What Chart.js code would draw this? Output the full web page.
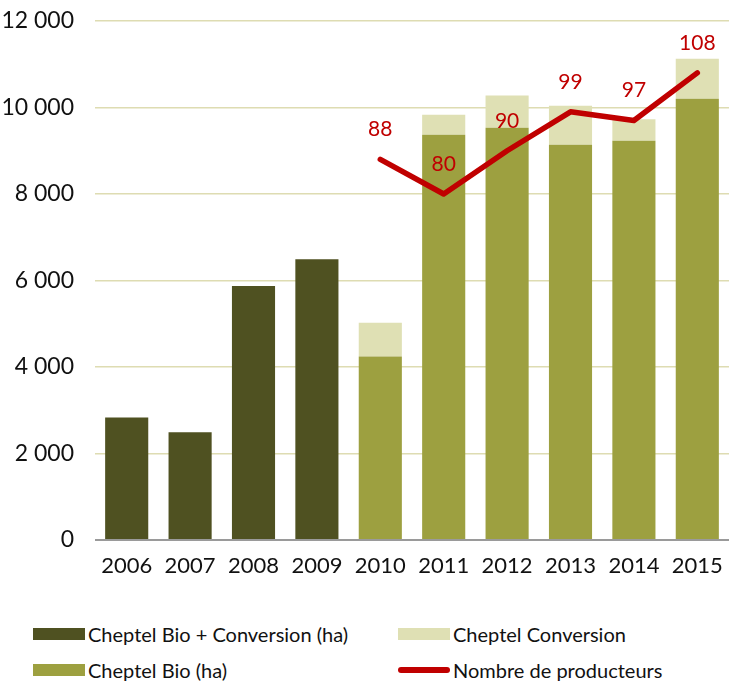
<!DOCTYPE html>
<html>
<head>
<meta charset="utf-8">
<script src="https://cdn.jsdelivr.net/npm/chart.js@4/dist/chart.umd.min.js"></script>
<style>
  html, body { margin: 0; padding: 0; background: #fff; }
  #wrap { position: relative; width: 729px; height: 684px; }
  #box { position: absolute; left: 0; top: 0; width: 729px; height: 600px; }
  .leg { position: absolute; font-family: Lato, sans-serif; font-size: 20px; color: #111; display: flex; align-items: center; white-space: nowrap; }
  .sw { width: 52px; height: 12px; margin-right: 3px; }
  .ln { width: 52px; height: 6px; border-radius: 3px; margin-right: 3px; }
</style>
</head>
<body>
<div id="wrap">
  <div id="box"><canvas id="c"></canvas></div>
  <div class="leg" style="left:33px; top:622px;"><span class="sw" style="background:#4f5121"></span>Cheptel Bio + Conversion (ha)</div>
  <div class="leg" style="left:398px; top:622px;"><span class="sw" style="background:#dfe0b4"></span>Cheptel Conversion</div>
  <div class="leg" style="left:33px; top:658px;"><span class="sw" style="background:#9da040"></span>Cheptel Bio (ha)</div>
  <div class="leg" style="left:398px; top:658px;"><span class="ln" style="background:#c00000"></span>Nombre de producteurs</div>
</div>
<script>
const years = ['2006','2007','2008','2009','2010','2011','2012','2013','2014','2015'];
const bioPlusConversion = [2830, 2490, 5870, 6490, null, null, null, null, null, null];
const bio = [null, null, null, null, 4240, 9370, 9530, 9140, 9230, 10200];
const conversion = [null, null, null, null, 785, 460, 745, 900, 500, 925];
const producteurs = [null, null, null, null, 88, 80, 90, 99, 97, 108];
const yTicks = [0, 2000, 4000, 6000, 8000, 10000, 12000];

const fmt = v => String(v).replace(/\B(?=(\d{3})+(?!\d))/g, ' ');

const lineLabels = {
  id: 'lineLabels',
  afterDatasetsDraw(chart) {
    const ctx = chart.ctx;
    const meta = chart.getDatasetMeta(3);
    ctx.save();
    ctx.font = '21px Lato, sans-serif';
    ctx.fillStyle = '#c00000';
    ctx.textAlign = 'center';
    ctx.textBaseline = 'middle';
    meta.data.forEach((pt, i) => {
      const v = producteurs[i];
      if (v == null) return;
      ctx.fillText(String(v), pt.x, pt.y - 30);
    });
    ctx.restore();
  }
};

new Chart(document.getElementById('c'), {
  data: {
    labels: years,
    datasets: [
      { type: 'bar', label: 'Cheptel Bio + Conversion (ha)', data: bioPlusConversion, backgroundColor: '#4f5121', stack: 's', order: 2 },
      { type: 'bar', label: 'Cheptel Bio (ha)', data: bio, backgroundColor: '#9da040', stack: 's', order: 2 },
      { type: 'bar', label: 'Cheptel Conversion', data: conversion, backgroundColor: '#dfe0b4', stack: 's', order: 2 },
      { type: 'line', label: 'Nombre de producteurs', data: producteurs, yAxisID: 'y1', borderColor: '#c00000', borderWidth: 5.5, pointRadius: 0, borderCapStyle: 'round', borderJoinStyle: 'round', fill: false, tension: 0, order: 1, spanGaps: false }
    ]
  },
  options: {
    responsive: true,
    maintainAspectRatio: false,
    animation: false,
    layout: { padding: { top: 21, right: 0, left: 0, bottom: 0 } },
    plugins: { legend: { display: false }, tooltip: { enabled: false } },
    datasets: { bar: { categoryPercentage: 1, barPercentage: 0.68 } },
    scales: {
      x: {
        stacked: true,
        grid: { display: false },
        border: { display: false },
        ticks: { color: '#111', font: { family: 'Lato, sans-serif', size: 22 }, padding: 5 },
        afterFit(s) { s.height = 60; s.paddingLeft = 0; s.paddingRight = 0; }
      },
      y: {
        stacked: true,
        min: 0, max: 12000,
        afterBuildTicks(s) { s.ticks = yTicks.map(v => ({ value: v })); },
        grid: { color: ctx => ctx.tick && ctx.tick.value === 0 ? '#9a9a9a' : '#dedcb2', lineWidth: ctx => ctx.tick && ctx.tick.value === 0 ? 2 : 1.5, drawTicks: false },
        border: { display: false },
        ticks: { color: '#111', font: { family: 'Lato, sans-serif', size: 23 }, padding: 21, callback: v => fmt(v) },
        afterFit(s) { s.width = 95; s.paddingTop = 0; s.paddingBottom = 0; }
      },
      y1: { display: false, min: 0, max: 120 }
    }
  },
  plugins: [lineLabels]
});
</script>
</body>
</html>
